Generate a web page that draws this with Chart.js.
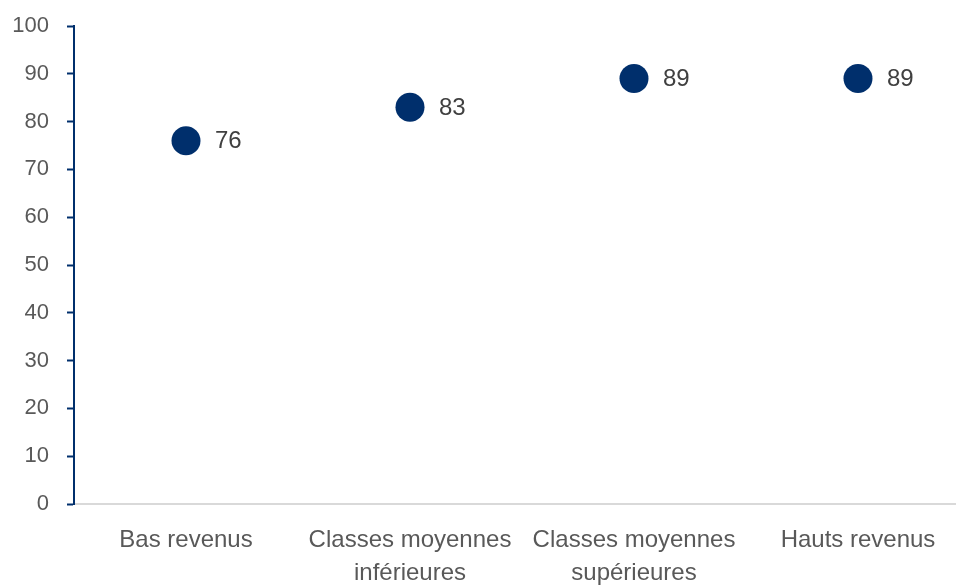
<!DOCTYPE html>
<html>
<head>
<meta charset="utf-8">
<script src="https://cdn.jsdelivr.net/npm/chart.js@4/dist/chart.umd.min.js"></script>
<style>
html,body{margin:0;padding:0;overflow:hidden;background:#fff;}
canvas{display:block;}
</style>
</head>
<body>
<canvas id="c" width="956" height="586"></canvas>
<script>
const categories = [["Bas revenus"], ["Classes moyennes", "inférieures"], ["Classes moyennes", "supérieures"], ["Hauts revenus"]];
const values = [76, 83, 89, 89];
const yTicks = [0, 10, 20, 30, 40, 50, 60, 70, 80, 90, 100];

const NAVY = '#002F6C';
const FONT = "'Liberation Sans', Arial, sans-serif";

const labelPlugin = {
  id: 'pointLabels',
  afterDatasetsDraw(chart) {
    const ctx = chart.ctx;
    const meta = chart.getDatasetMeta(0);
    ctx.save();
    ctx.font = '24px ' + FONT;
    ctx.fillStyle = '#404040';
    ctx.textAlign = 'left';
    ctx.textBaseline = 'middle';
    meta.data.forEach((pt, i) => {
      ctx.fillText(String(values[i]), pt.x + 29, pt.y + 1);
    });
    ctx.restore();
  }
};

new Chart(document.getElementById('c'), {
  type: 'scatter',
  data: {
    datasets: [{
      data: values.map((v, i) => ({ x: i, y: v })),
      showLine: false,
      clip: false,
      pointRadius: 14.5,
      pointHoverRadius: 14.5,
      pointBackgroundColor: NAVY,
      pointBorderColor: NAVY,
      pointBorderWidth: 0
    }]
  },
  options: {
    responsive: false,
    maintainAspectRatio: false,
    animation: false,
    devicePixelRatio: 1,
    layout: { autoPadding: false, padding: { top: 26, left: 0, right: 0, bottom: 0 } },
    plugins: { legend: { display: false }, tooltip: { enabled: false } },
    scales: {
      x: {
        type: 'linear',
        min: -0.5,
        max: 3.4375,
        afterBuildTicks(scale) { scale.ticks = categories.map((c, i) => ({ value: i })); },
        grid: { display: true, drawOnChartArea: false, drawTicks: false },
        border: { color: '#D9D9D9', width: 2 },
        ticks: {
          color: '#595959',
          font: { family: FONT, size: 24, lineHeight: 1.375 },
          padding: 20,
          maxRotation: 0,
          autoSkip: false,
          callback: (v) => categories[v]
        },
        afterFit(scale) { scale.height = 82; scale.paddingLeft = 0; scale.paddingRight = 0; }
      },
      y: {
        min: 0,
        max: 100,
        afterBuildTicks(scale) { scale.ticks = yTicks.map(v => ({ value: v })); },
        grid: { drawOnChartArea: false, drawTicks: true, tickLength: 7, tickColor: NAVY, tickWidth: 2 },
        border: { color: NAVY, width: 2 },
        ticks: {
          color: '#595959',
          font: { family: FONT, size: 22 },
          padding: 18
        },
        afterFit(scale) { scale.width = 74; scale.paddingTop = 0; scale.paddingBottom = 0; }
      }
    }
  },
  plugins: [labelPlugin]
});
</script>
</body>
</html>
